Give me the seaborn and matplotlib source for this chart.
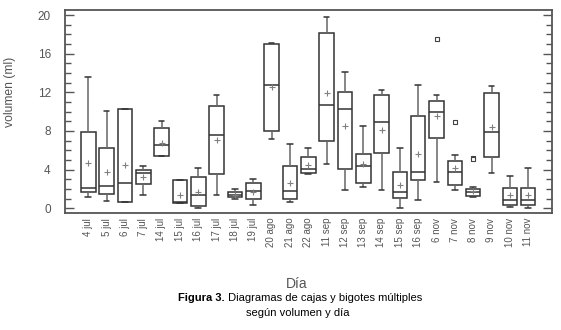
import numpy as np
import pandas as pd
import matplotlib
matplotlib.use("Agg")
import matplotlib.pyplot as plt
from matplotlib.ticker import MultipleLocator
import seaborn as sns

# resumen de cinco numeros (volumen en ml)
days = ['4 jul', '5 jul', '6 jul', '7 jul', '14 jul', '15 jul', '16 jul', '17 jul',
        '18 jul', '19 jul', '20 ago', '21 ago', '22 ago', '11 sep', '12 sep', '13 sep',
        '14 sep', '15 sep', '16 sep', '6 nov', '7 nov', '8 nov', '9 nov', '10 nov', '11 nov']
whislo = [1.2, 0.8, 0.65, 1.35, 5.4, 0.55, 0.03, 1.35, 0.93, 0.35, 7.14, 0.7, 3.5,
          4.6, 1.9, 2.24, 1.9, 0.0, 0.86, 2.7, 1.9, 1.14, 3.69, 0.14, 0.0]
q1 = [1.66, 1.45, 0.65, 2.5, 5.4, 0.55, 0.2, 3.5, 1.14, 0.93, 8.0, 1.0, 3.7,
      7.0, 4.07, 2.6, 5.76, 1.1, 2.93, 7.24, 2.41, 1.28, 5.34, 0.38, 0.38]
med = [2.14, 2.28, 2.6, 3.7, 6.5, 0.6, 1.35, 7.55, 1.38, 1.8, 12.8, 1.83, 4.03,
       10.7, 10.3, 4.4, 8.9, 1.66, 3.72, 9.93, 3.72, 1.72, 7.86, 0.9, 0.9]
q3 = [7.86, 6.2, 10.3, 4.0, 8.35, 2.9, 3.2, 10.55, 1.66, 2.6, 17.0, 4.4, 5.3,
      18.1, 12.07, 5.6, 11.7, 3.8, 9.55, 11.07, 4.93, 2.0, 11.9, 2.14, 2.14]
whishi = [13.55, 10.1, 10.3, 4.4, 9.0, 2.9, 4.2, 11.7, 1.97, 3.0, 17.1, 6.65, 6.2,
          19.8, 14.1, 8.55, 12.2, 6.2, 12.8, 11.7, 5.55, 2.17, 12.7, 3.38, 4.14]
means = [4.65, 3.8, 4.5, 3.2, 6.8, 1.4, 1.7, 7.07, 1.4, 1.7, 12.5, 2.65, 4.45,
         11.97, 8.5, 4.55, 8.14, 2.45, 5.6, 9.55, 4.2, 1.75, 8.38, 1.38, 1.38]
out_days = ['6 nov', '7 nov', '8 nov', '8 nov']
out_vals = [17.55, 8.97, 5.25, 5.05]

sns.set_style("white")
plt.rcParams['font.family'] = ['Liberation Sans', 'DejaVu Sans']

# con 5 valores por dia los cuartiles salen exactos y whis=(0,100) pone los bigotes en min/max
cajas = pd.DataFrame({'dia': np.repeat(days, 5),
                      'volumen': np.column_stack([whislo, q1, med, q3, whishi]).ravel()})
medias = pd.DataFrame({'dia': days, 'volumen': means})
atipicos = pd.DataFrame({'dia': out_days, 'volumen': out_vals})

fig = plt.figure(figsize=(5.61, 3.30), dpi=100)
ax = fig.add_axes([64.7/561, 1 - 213/330, 487.3/561, 203/330])

sns.boxplot(data=cajas, x='dia', y='volumen', order=days, whis=(0, 100), width=0.8,
            color='white', linecolor='#333333', linewidth=1.1, fliersize=0, ax=ax,
            whiskerprops=dict(color='#666666'), capwidths=0.3)
sns.stripplot(data=medias, x='dia', y='volumen', order=days, jitter=False, marker='+',
              color='#808080', edgecolor='#808080', size=5, linewidth=0.8, ax=ax)
sns.stripplot(data=atipicos, x='dia', y='volumen', order=days, jitter=False, marker='s',
              color='white', edgecolor='#444444', size=3.5, linewidth=0.8, ax=ax)

ax.set_xlim(-1.28, 25.3)
ax.set_ylim(-0.49, 20.52)
ax.yaxis.set_major_locator(MultipleLocator(4))
ax.yaxis.set_minor_locator(MultipleLocator(1))
ax.tick_params(axis='y', which='both', direction='in', left=True, right=True,
               color='#555555', labelcolor='#555555', labelsize=8.5, pad=10)
ax.tick_params(axis='y', which='major', length=6.5, width=1)
ax.tick_params(axis='y', which='minor', length=4, width=1)
ax.tick_params(axis='x', length=0, pad=3.5, labelcolor='#555555', labelsize=7, rotation=90)
for s in ax.spines.values():
    s.set_color('#555555')
    s.set_linewidth(1.3)

ax.set_xlabel('Día', fontsize=10, color='#555555')
ax.xaxis.set_label_coords(0.476, -0.315)
ax.set_ylabel('volumen (ml)', fontsize=8.7, color='#555555')
ax.yaxis.set_label_coords(-0.10, 0.596)

t1 = fig.text(178/561, 1 - 301/330, 'Figura 3.', fontsize=8, fontweight='bold', color='black')
fig.canvas.draw()
bb = t1.get_window_extent(fig.canvas.get_renderer())
fig.text(bb.x1/fig.bbox.width, 1 - 301/330, ' Diagramas de cajas y bigotes múltiples',
         fontsize=8, color='black')
fig.text(298/561, 1 - 316/330, 'según volumen y día', fontsize=8, color='black', ha='center')

fig.savefig('out.png', dpi=100)
